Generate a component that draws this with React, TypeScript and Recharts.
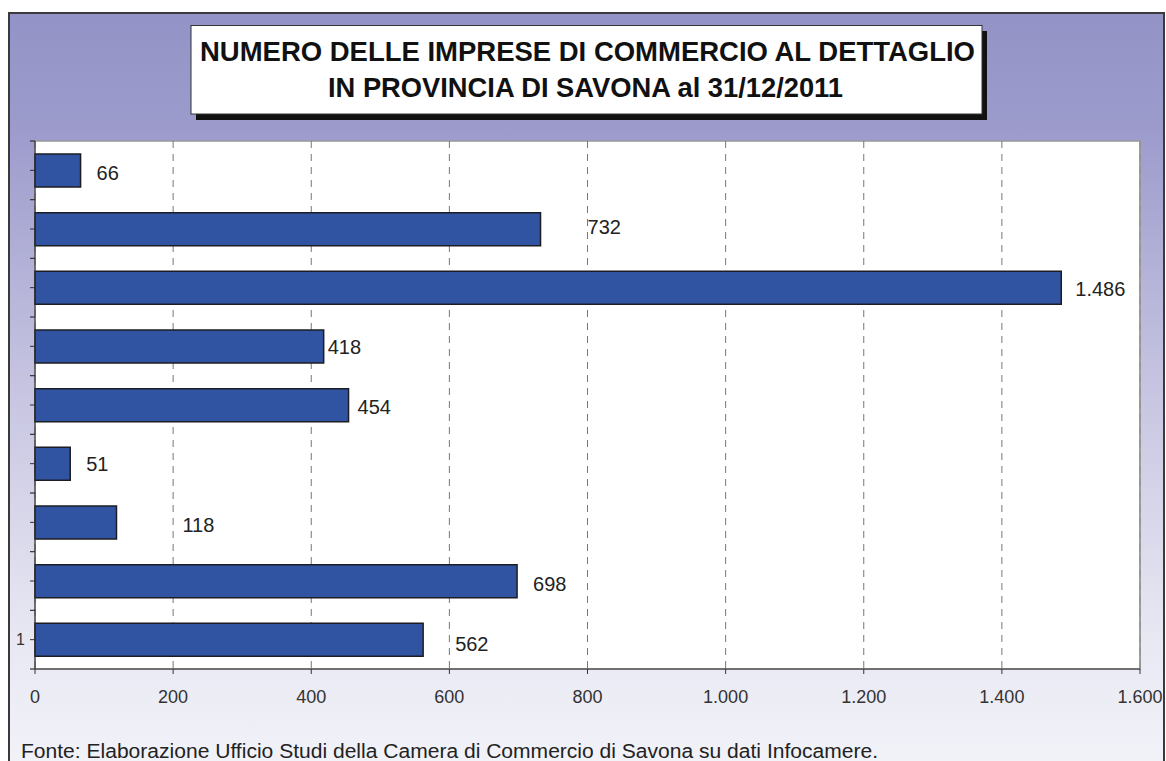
import React from "react";
import {
  BarChart,
  Bar,
  XAxis,
  YAxis,
  CartesianGrid,
  LabelList,
  ReferenceLine,
} from "recharts";

// ---------- data ----------
const CATEGORIES = ["c9", "c8", "c7", "c6", "c5", "c4", "c3", "c2", "c1"];
const Y_LABELS = ["", "", "", "", "", "", "", "", "1"];
const VALUES = [66, 732, 1486, 418, 454, 51, 118, 698, 562];
const X_TICKS = [0, 200, 400, 600, 800, 1000, 1200, 1400, 1600];

const TITLE_1 = "NUMERO DELLE IMPRESE DI COMMERCIO AL DETTAGLIO";
const TITLE_2 = "IN PROVINCIA DI SAVONA al 31/12/2011";
const FOOTER =
  "Fonte: Elaborazione Ufficio Studi della Camera di Commercio di Savona su dati Infocamere.";

// ---------- label placement (style, as in the reference) ----------
const LABEL_DX = [16, 47, 14, 4, 9, 16, 66, 16, 32];
const LABEL_DY = [2, -2, 1, 0, 2, 0, 2, 3, 4];

// ---------- layout ----------
const W = 1166;
const H = 761;
const PLOT_LEFT = 35;
const PLOT_RIGHT = 1140;
const PLOT_TOP = 141;
const PLOT_BOTTOM = 669;
const YAXIS_W = 26;
const XAXIS_H = 50;
const BAND = (PLOT_BOTTOM - PLOT_TOP) / CATEGORIES.length;
const FONT = "'Liberation Sans', Arial, Helvetica, sans-serif";

const data = CATEGORIES.map((c, i) => ({ cat: c, value: VALUES[i] }));

const fmt = (v: number) =>
  String(v).replace(/\B(?=(\d{3})+(?!\d))/g, ".");

const YTick = (props: any) => {
  const { y, index } = props;
  const last = index === CATEGORIES.length - 1;
  return (
    <g>
      <line
        x1={PLOT_LEFT - 5}
        x2={PLOT_LEFT}
        y1={y - BAND / 2}
        y2={y - BAND / 2}
        stroke="#333"
        strokeWidth={1.2}
      />
      {last && (
        <line
          x1={PLOT_LEFT - 5}
          x2={PLOT_LEFT}
          y1={y + BAND / 2}
          y2={y + BAND / 2}
          stroke="#333"
          strokeWidth={1.2}
        />
      )}
      <text
        x={PLOT_LEFT - 10}
        y={y}
        textAnchor="end"
        dominantBaseline="central"
        fontSize={16}
        fontFamily={FONT}
        fill="#333"
      >
        {Y_LABELS[index]}
      </text>
    </g>
  );
};

const renderLabel = (props: any) => {
  const { x, y, width, height, value, index } = props;
  return (
    <text
      x={Number(x) + Number(width) + LABEL_DX[index]}
      y={Number(y) + Number(height) / 2 + LABEL_DY[index]}
      dominantBaseline="central"
      textAnchor="start"
      fontSize={20}
      fontFamily={FONT}
      fill="#222"
    >
      {fmt(Number(value))}
    </text>
  );
};

export default function App() {
  return (
    <div style={{ position: "absolute", left: 0, top: 0, width: W, height: H }}>
      <svg
        width={W}
        height={H}
        style={{ position: "absolute", left: 0, top: 0 }}
      >
        <defs>
          <linearGradient id="bg" x1="0" y1="0" x2="0" y2="1">
            <stop offset="0%" stopColor="#9393c7" />
            <stop offset="15%" stopColor="#9c9bcc" />
            <stop offset="45%" stopColor="#c3c1df" />
            <stop offset="80%" stopColor="#e8e8f3" />
            <stop offset="100%" stopColor="#f4f4fa" />
          </linearGradient>
        </defs>
        <rect
          x={9}
          y={13}
          width={1155}
          height={H + 20}
          fill="url(#bg)"
          stroke="#3a3a3a"
          strokeWidth={2}
        />
        {/* title box */}
        <rect x={196} y={31} width={791} height={89} fill="#111" />
        <rect
          x={191}
          y={25.5}
          width={791}
          height={88.5}
          fill="#fff"
          stroke="#333"
          strokeWidth={1}
        />
        <text
          x={200}
          y={61}
          fontSize={28}
          fontWeight="bold"
          fontFamily={FONT}
          fill="#111"
          textLength={775}
          lengthAdjust="spacingAndGlyphs"
        >
          {TITLE_1}
        </text>
        <text
          x={328}
          y={97}
          fontSize={28}
          fontWeight="bold"
          fontFamily={FONT}
          fill="#111"
          textLength={515}
          lengthAdjust="spacingAndGlyphs"
        >
          {TITLE_2}
        </text>
        {/* plot area */}
        <rect
          x={PLOT_LEFT}
          y={PLOT_TOP}
          width={PLOT_RIGHT - PLOT_LEFT}
          height={PLOT_BOTTOM - PLOT_TOP}
          fill="#fff"
          stroke="#999"
          strokeWidth={1.5}
        />
        <text
          x={21}
          y={758}
          fontSize={20}
          fontFamily={FONT}
          fill="#222"
          textLength={857}
          lengthAdjust="spacingAndGlyphs"
        >
          {FOOTER}
        </text>
      </svg>
      <div style={{ position: "absolute", left: 0, top: 0 }}>
        <BarChart
          width={W}
          height={H}
          data={data}
          layout="vertical"
          margin={{
            top: PLOT_TOP,
            right: W - PLOT_RIGHT,
            bottom: H - PLOT_BOTTOM - XAXIS_H,
            left: PLOT_LEFT - YAXIS_W,
          }}
        >
          <CartesianGrid
            horizontal={false}
            stroke="#777"
            strokeDasharray="7 6"
          />
          <ReferenceLine x={1600} stroke="#999" strokeWidth={1.5} />
          <XAxis
            type="number"
            domain={[0, 1600]}
            ticks={X_TICKS}
            tickFormatter={fmt}
            height={XAXIS_H}
            tickSize={5}
            tickMargin={16}
            stroke="#333"
            interval={0}
            tick={{ fontSize: 18, fill: "#333", fontFamily: FONT }}
          />
          <YAxis
            type="category"
            dataKey="cat"
            width={YAXIS_W}
            interval={0}
            tickSize={5}
            stroke="#333"
            tick={<YTick />}
          />
          <Bar
            dataKey="value"
            fill="#3054a2"
            stroke="#1c1c24"
            strokeWidth={1.5}
            barSize={33}
            isAnimationActive={false}
          >
            <LabelList dataKey="value" content={renderLabel} />
          </Bar>
        </BarChart>
      </div>
    </div>
  );
}
